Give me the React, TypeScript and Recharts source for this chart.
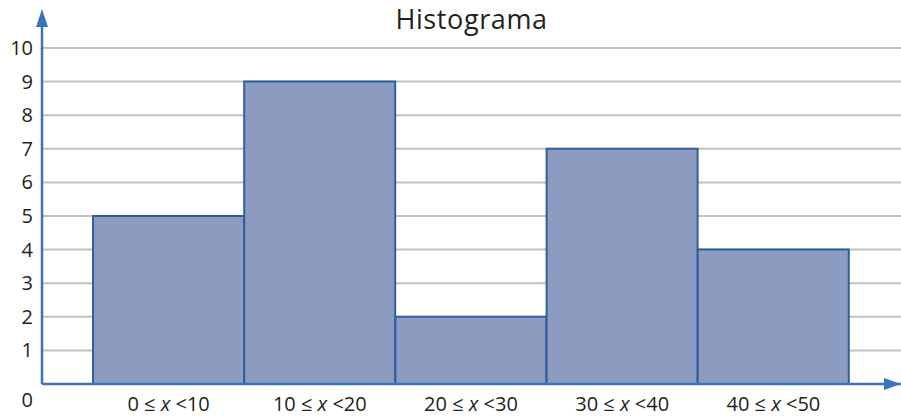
import React from "react";
import {
  BarChart,
  Bar,
  XAxis,
  YAxis,
  CartesianGrid,
  usePlotArea,
  useChartWidth,
} from "recharts";

const categories = ["0 ≤ x <10", "10 ≤ x <20", "20 ≤ x <30", "30 ≤ x <40", "40 ≤ x <50"];
const counts = [5, 9, 2, 7, 4];
const yTicks = [0, 1, 2, 3, 4, 5, 6, 7, 8, 9, 10];
const title = "Histograma";

const data = categories.map((c, i) => ({ range: c, count: counts[i] }));

const FONT = "'Open Sans', 'Noto Sans', sans-serif";
const TEXT = "#231f20";
const AXIS = "#3a74b9";

const XTick = (props: any) => {
  const { x, y, payload } = props;
  const parts = String(payload.value).split("x");
  return (
    <text x={x} y={y + 19} textAnchor="middle" fontSize={20} fill={TEXT} fontFamily={FONT}>
      {parts[0]}
      <tspan fontStyle="italic">x</tspan>
      {parts[1]}
    </text>
  );
};

const YTick = (props: any) => {
  const { x, y, payload } = props;
  const isZero = payload.value === 0;
  return (
    <text
      x={x}
      y={isZero ? y + 23 : y + 7}
      textAnchor="end"
      fontSize={20}
      fill={TEXT}
      fontFamily={FONT}
    >
      {payload.value}
    </text>
  );
};

const Decorations = () => {
  const area = usePlotArea();
  const width = useChartWidth();
  if (!area) return null;
  const left = area.x;
  const top = area.y;
  const bottom = area.y + area.height;
  const right = area.x + area.width;
  const tipY = top - 39;
  return (
    <g>
      <text
        x={(width ?? 901) / 2 + 21}
        y={29}
        textAnchor="middle"
        fontSize={27}
        letterSpacing={0.6}
        fill={TEXT}
        fontFamily={FONT}
      >
        {title}
      </text>
      <line x1={left} y1={top + 1} x2={left} y2={tipY + 10} stroke={AXIS} strokeWidth={2.5} />
      <polygon
        points={`${left},${tipY} ${left - 6},${tipY + 18} ${left + 6},${tipY + 18}`}
        fill={AXIS}
      />
      <polygon
        points={`${right},${bottom} ${right - 17},${bottom - 6} ${right - 17},${bottom + 6}`}
        fill={AXIS}
      />
    </g>
  );
};

export default function App() {
  return (
    <div style={{ position: "absolute", left: 0, top: 0, width: 901, height: 419, background: "#fff" }}>
      <BarChart
        width={901}
        height={419}
        data={data}
        margin={{ top: 48, right: 0, bottom: 0, left: 0 }}
        barCategoryGap={0}
      >
        <CartesianGrid
          horizontal={true}
          vertical={false}
          stroke="#c2c2ba"
          strokeWidth={2}
        />
        <Bar
          dataKey="count"
          fill="#8c9cc1"
          stroke="#2f5f9e"
          strokeWidth={2}
          isAnimationActive={false}
        />
        <XAxis
          dataKey="range"
          tick={<XTick />}
          tickLine={false}
          height={35}
          axisLine={{ stroke: AXIS, strokeWidth: 2.5 }}
          padding={{ left: 51, right: 52 }}
          interval={0}
        />
        <YAxis
          type="number"
          domain={[0, 10]}
          ticks={yTicks}
          tick={<YTick />}
          tickLine={false}
          tickSize={0}
          tickMargin={9}
          width={42}
          axisLine={{ stroke: AXIS, strokeWidth: 2.5 }}
          interval={0}
        />
        <Decorations />
      </BarChart>
    </div>
  );
}
